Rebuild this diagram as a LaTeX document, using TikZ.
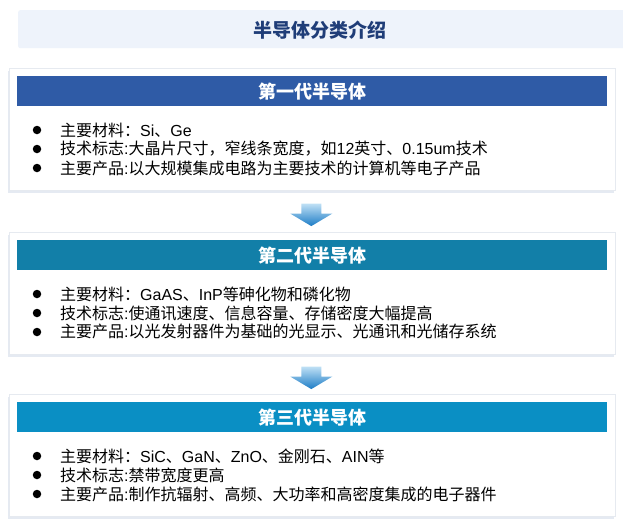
\documentclass[tikz,border=0pt]{standalone}
\usepackage{fontspec}
\setmainfont{Liberation Sans}
\newfontfamily\cjk{Noto Sans CJK SC}
\newcommand\lat[1]{{\rmfamily #1}}
\usetikzlibrary{shadows,calc}
\definecolor{titlebg}{HTML}{EEF3FB}
\definecolor{titlefg}{HTML}{1F3D78}
\definecolor{headA}{HTML}{2F5BA6}
\definecolor{headB}{HTML}{127FA8}
\definecolor{headC}{HTML}{0A8FC4}
\definecolor{boxline}{HTML}{E6EAF0}
\definecolor{shadowc}{HTML}{D5DDEA}
\definecolor{arrtop}{HTML}{BFE0F5}
\definecolor{arrbot}{HTML}{1C7CC6}
\begin{document}
\begin{tikzpicture}[x=1pt,y=-1pt,
  outerbox/.style={draw=boxline, line width=0.6pt, fill=white, minimum width=606pt,
    minimum height=122pt, inner sep=0pt, anchor=north west,
    drop shadow={shadow xshift=-1pt, shadow yshift=-2.5pt, fill=shadowc, opacity=0.6}},
  headbar/.style={minimum width=590pt, minimum height=30pt, inner sep=0pt,
    anchor=north west},
  headtext/.style={text=white, inner sep=0pt, font=\cjk\bfseries\fontsize{18}{18}\selectfont},
  bul/.style={circle, fill=black, inner sep=0pt, minimum size=8.5pt},
  itemtext/.style={anchor=west, inner sep=0pt, font=\cjk\fontsize{16}{16}\selectfont},
  arrowshape/.style={top color=arrtop, bottom color=arrbot}]
\useasboundingbox (0,0) rectangle (623,525);
\fill[white] (0,0) rectangle (623,525);
% title
\node[fill=titlebg, rounded corners=2pt, minimum width=610pt, minimum height=38pt,
  inner sep=0pt, anchor=north west] (titlebox) at (18,10) {};
\node[text=titlefg, inner sep=0pt, font=\cjk\bfseries\fontsize{19}{19}\selectfont]
  (titletext) at (320,30) {半导体分类介绍};
% generic box
\newcommand\genbox[7]{%
  \node[outerbox] (#1) at (9,#2) {};
  \node[headbar, fill=#3] (#1h) at (17,#2+8) {};
  \node[headtext] (#1t) at (#1h.center) {#4};
  \node[bul] (#1b1) at (37,#2+62) {};
  \node[bul] (#1b2) at (37,#2+81) {};
  \node[bul] (#1b3) at (37,#2+100) {};
  \node[itemtext] (#1i1) at (60,#2+62) {#5};
  \node[itemtext] (#1i2) at (60,#2+81) {#6};
  \node[itemtext] (#1i3) at (60,#2+100) {#7};
}
\genbox{boxA}{68}{headA}{第一代半导体}
  {主要材料：\lat{Si}、\lat{Ge}}
  {技术标志\lat{:}大晶片尺寸，窄线条宽度，如\lat{12}英寸、\lat{0.15um}技术}
  {主要产品\lat{:}以大规模集成电路为主要技术的计算机等电子产品}
\genbox{boxB}{232}{headB}{第二代半导体}
  {主要材料：\lat{GaAS}、\lat{InP}等砷化物和磷化物}
  {技术标志\lat{:}使通讯速度、信息容量、存储密度大幅提高}
  {主要产品\lat{:}以光发射器件为基础的光显示、光通讯和光储存系统}
\genbox{boxC}{394}{headC}{第三代半导体}
  {主要材料：\lat{SiC}、\lat{GaN}、\lat{ZnO}、金刚石、\lat{AIN}等}
  {技术标志\lat{:}禁带宽度更高}
  {主要产品\lat{:}制作抗辐射、高频、大功率和高密度集成的电子器件}
% arrows
\coordinate (arrA) at ($(boxA.south)+(-1,13)$);
\coordinate (arrB) at ($(boxB.south)+(-1,12)$);
\foreach \a in {arrA,arrB}{
  \shade[arrowshape] ($(\a)+(-10,0)$) -- ($(\a)+(10,0)$) -- ($(\a)+(10,10)$)
    -- ($(\a)+(21,10)$) -- ($(\a)+(0,22.5)$) -- ($(\a)+(-21,10)$)
    -- ($(\a)+(-10,10)$) -- cycle;
}
\end{tikzpicture}
\end{document}
